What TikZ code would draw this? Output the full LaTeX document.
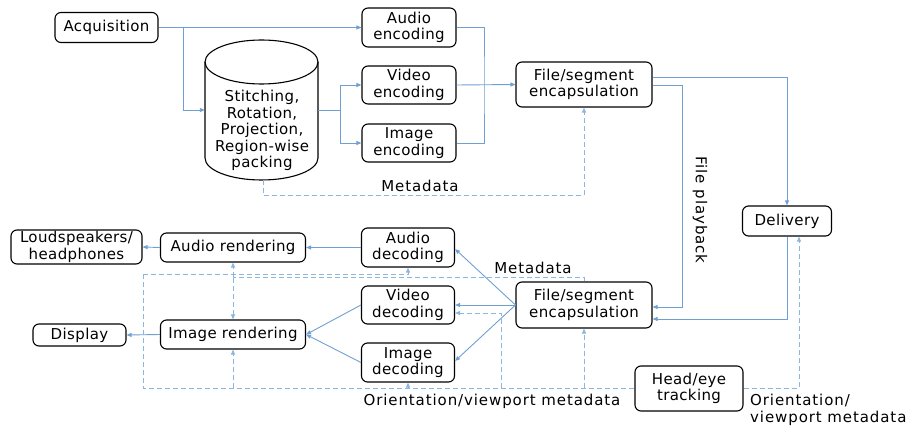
\documentclass[tikz,border=0pt]{standalone}
\usepackage{fontspec}
\setmainfont{DejaVu Sans}[LetterSpace=2.5]
\newfontfamily\lblfont{DejaVu Sans}[LetterSpace=6]
\usetikzlibrary{arrows.meta}
\definecolor{lnblue}{RGB}{112,160,210}
\definecolor{dsblue}{RGB}{140,182,222}
\begin{document}
\begin{tikzpicture}[x=1pt,y=-1pt,
  font=\fontsize{15}{16.5}\selectfont,
  box/.style={draw,rounded corners=6pt,line width=1.1pt,align=center,inner sep=0pt},
  arr/.style={lnblue,line width=0.9pt,-{Triangle[length=5pt,width=4pt]}},
  ln/.style={lnblue,line width=0.9pt},
  darr/.style={dsblue,line width=0.9pt,dash pattern=on 5pt off 3pt,-{Triangle[length=5pt,width=4pt]}},
  dln/.style={dsblue,line width=0.9pt,dash pattern=on 5pt off 3pt},
  lbl/.style={inner sep=0pt,align=left,font=\lblfont\fontsize{15}{16.5}\selectfont}]
\useasboundingbox (0,0) rectangle (915,430);
% nodes
\node[box,minimum width=103pt,minimum height=30pt] (acq) at (106.5,27.5) {Acquisition};
\node[box,minimum width=94pt,minimum height=39pt] (aenc) at (409,27.5) {Audio\\encoding};
\node[box,minimum width=94pt,minimum height=38pt] (venc) at (409,85) {Video\\encoding};
\node[box,minimum width=94pt,minimum height=38pt] (ienc) at (409,143) {Image\\encoding};
\node[box,minimum width=136pt,minimum height=45pt] (enc1) at (584,84.5) {File/segment\\encapsulation};
\node[box,minimum width=89pt,minimum height=30pt] (deliv) at (787,221) {Delivery};
\node[box,minimum width=136pt,minimum height=46pt] (enc2) at (584,305) {File/segment\\encapsulation};
\node[box,minimum width=108pt,minimum height=45pt] (head) at (689,388.5) {Head/eye\\tracking};
\node[box,minimum width=131pt,minimum height=34pt] (ldsp) at (76.5,247) {Loudspeakers/\\headphones};
\node[box,minimum width=145pt,minimum height=29pt] (arend) at (233,247.5) {Audio rendering};
\node[box,minimum width=93pt,minimum height=39pt] (adec) at (408,247.5) {Audio\\decoding};
\node[box,minimum width=93pt,minimum height=38pt] (vdec) at (408,305) {Video\\decoding};
\node[box,minimum width=93pt,minimum height=22pt] (disp) at (79.5,335) {Display};
\node[box,minimum width=145pt,minimum height=29pt] (irend) at (233,334.5) {Image rendering};
\node[box,minimum width=93pt,minimum height=39pt] (idec) at (408,362.5) {Image\\decoding};
% cylinder
\draw[line width=1.1pt] (205,62) -- (205,158) arc[start angle=180,end angle=360,x radius=56.5pt,y radius=22pt] -- (318,62);
\draw[line width=1.1pt] (261.5,62) ellipse[x radius=56.5pt,y radius=22pt];
\node[minimum width=113pt,minimum height=140pt,inner sep=0pt] (cyl) at (261.5,110) {};
\node[align=center,inner sep=0pt] (cyltext) at (262,130.5) {Stitching,\\Rotation,\\Projection,\\Region-wise\\packing};
% coordinates
\coordinate (b1) at (183,27.5);
\coordinate (b2) at (340,110);
\coordinate (m1) at (484,85);
\coordinate (c1) at (787,77);
\coordinate (c2) at (682,85);
\coordinate (c3) at (787,319);
\coordinate (c4) at (682,307);
\coordinate (d1) at (263,195);
\coordinate (d2) at (233,277.5);
\coordinate (d3) at (143,388);
\coordinate (d4) at (143,274);
\coordinate (d5) at (501,313);
\coordinate (d6) at (799,388);
% solid connectors
\draw[arr] (acq.east) -- (aenc.west);
\draw[arr] (b1) |- (cyl.west);
\draw[ln] (cyl.east) -- (b2);
\draw[arr] (b2) |- (venc.west);
\draw[arr] (b2) |- (ienc.west);
\draw[ln] (aenc.east) -| (m1) |- (ienc.east);
\draw[arr] (venc.east) -- (enc1.west);
\draw[arr] (enc1.east |- c1) -- (c1) -- (deliv.north -| c1);
\draw[arr] (enc1.east |- c2) -- (c2) |- (enc2.east |- c4);
\draw[arr] (deliv.south -| c3) -- (c3) -- (enc2.east |- c3);
\draw[arr] (enc2.west) -- ([yshift=-1.5pt]adec.east);
\draw[arr] (enc2.west) -- (vdec.east);
\draw[arr] (enc2.west) -- ([yshift=1.5pt]idec.east);
\draw[arr] (adec.west) -- (arend.east);
\draw[arr] (arend.west) -- (ldsp.east);
\draw[arr] (irend.west) -- (disp.east);
\draw[arr] (vdec.west) -- (irend.east);
\draw[arr] (idec.west) -- (irend.east);
% dashed connectors
\draw[darr] (cyl.south -| d1) -- (d1) -| (enc1.south);
\draw[dln] (enc2.north) |- (d2);
\draw[darr] (d2) -- (arend.south);
\draw[darr] (d2) -- (irend.north);
\draw[dln] (head.west |- d3) -- (d3) -- (d4);
\draw[darr] (d4) -| (adec.south);
\draw[darr] (irend.south |- d3) -- (irend.south);
\draw[darr] (idec.south |- d3) -- (idec.south);
\draw[darr] (d5 |- d3) -- (d5) -- (vdec.east |- d5);
\draw[darr] (enc2.south |- d3) -- (enc2.south);
\draw[darr] (head.east |- d6) -- (d6) -- (deliv.south -| d6);
% labels
\node[lbl] (lm1) at (420,185.5) {Metadata};
\node[lbl,rotate=-90] (lfp) at (700,210) {File playback};
\node[lbl] (lm2) at (533,268) {Metadata};
\node[lbl] (lov) at (492,401) {Orientation/viewport metadata};
\node[lbl,anchor=west] (lov2) at (750,410) {Orientation/\\viewport metadata};
\end{tikzpicture}
\end{document}
